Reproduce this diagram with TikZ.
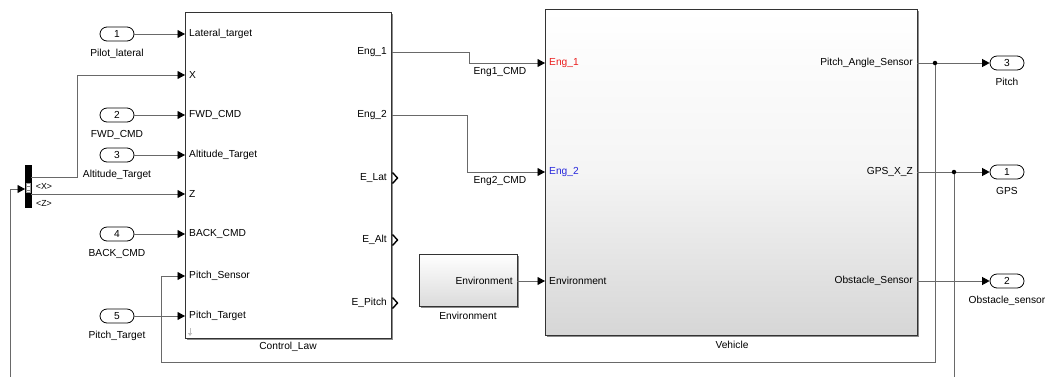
\documentclass[tikz,border=0pt]{standalone}
\usepackage{fontspec}
\setmainfont{Liberation Sans}
\usetikzlibrary{arrows.meta,shadows}
\newcommand{\dfont}{\fontsize{10.2}{12}\selectfont}
\newcommand{\sfont}{\fontsize{8.8}{10}\selectfont}
\definecolor{linegray}{RGB}{105,105,105}
\definecolor{portred}{RGB}{235,30,30}
\definecolor{portblue}{RGB}{40,40,220}
\tikzset{
  wire/.style={draw=linegray, line width=0.85pt},
  arr/.style={wire, -{Triangle[length=7.5pt,width=8pt,color=black]}},
  inport/.style={draw=black, line width=0.8pt, rounded corners=7pt, minimum width=34pt, minimum height=14pt, inner sep=0pt, font=\dfont, fill=white},
  block/.style={draw=black!80, line width=0.8pt, inner sep=0pt, drop shadow={shadow xshift=1.6pt, shadow yshift=-1.6pt, fill=black!45, opacity=1}},
  txt/.style={font=\dfont, inner sep=0pt},
  chev/.style={draw=black, line width=1.4pt},
  dot/.style={circle, fill=black, inner sep=0pt, minimum size=4.5pt},
  lbl/.style={txt, label distance=7.5pt}
}
\begin{document}
\begin{tikzpicture}[x=1pt,y=-1pt]
\clip (0,0) rectangle (1052,376);
\useasboundingbox (0,0) rectangle (1052,376);

% ---------- Control_Law block ----------
\node[block, fill=white, minimum width=206pt, minimum height=326pt] (cl) at (288,175) {};
\node[txt] (cltitle) at (288,347) {Control\_Law};
\draw[black!25, line width=0.8pt, -{Triangle[length=3pt,width=4pt]}] (190,328) -- (190,336);

\foreach \nm/\yy/\tx in {i1/34/Lateral\_target, i2/75/X, i3/115/FWD\_CMD, i4/155/Altitude\_Target, i5/194/Z, i6/234/BACK\_CMD, i7/276/Pitch\_Sensor, i8/316/Pitch\_Target}{
  \coordinate (cl-\nm) at (185,\yy);
  \node[txt, anchor=west] (cl-\nm-t) at (189,\yy) {\tx};
}
\foreach \nm/\yy/\tx in {o1/52/Eng\_1, o2/115/Eng\_2, o3/178/E\_Lat, o4/240/E\_Alt, o5/303/E\_Pitch}{
  \coordinate (cl-\nm) at (392,\yy);
  \node[txt, anchor=east] (cl-\nm-t) at (387,\yy) {\tx};
}
\foreach \yy in {178,240,303}{
  \draw[chev] (392.5,\yy-5.5) -- (397.5,\yy) -- (392.5,\yy+5.5);
}

% ---------- Inports ----------
\node[inport, label={[lbl]below:Pilot\_lateral}] (in1) at (117,34) {1};
\node[inport, label={[lbl]below:FWD\_CMD}] (in2) at (117,115) {2};
\node[inport, label={[lbl]below:Altitude\_Target}] (in3) at (117,155) {3};
\node[inport, label={[lbl]below:BACK\_CMD}] (in4) at (117,234) {4};
\node[inport, label={[lbl]below:Pitch\_Target}] (in5) at (117,316) {5};

\draw[arr] (in1.east) -- (cl-i1);
\draw[arr] (in2.east) -- (cl-i3);
\draw[arr] (in3.east) -- (cl-i4);
\draw[arr] (in4.east) -- (cl-i6);
\draw[arr] (in5.east) -- (cl-i8);

% ---------- Bus selector ----------
\node[fill=black, draw=black, minimum width=6pt, minimum height=42pt, inner sep=0pt] (bus) at (28,186) {};
\node[fill=white, draw=black!40, line width=0.4pt, minimum width=3.6pt, minimum height=9pt, inner sep=0pt] (busin) at (28,188) {};
\draw[black!50, line width=0.4pt] (26.5,186) -- (29.5,186) (26.5,190) -- (29.5,190);
\coordinate (busX) at (31,177);
\coordinate (busZ) at (31,194);
\coordinate (busI) at (25,189);
\node[font=\sfont, inner sep=0pt] (lx) at (44,186) {<X>};
\node[font=\sfont, inner sep=0pt] (lz) at (44,203) {<Z>};
\draw[arr] (busX) -- (77,177) -- (77,75) -- (cl-i2);
\draw[arr] (busZ) -- (cl-i5);

% ---------- Vehicle block ----------
\node[block, top color=white, bottom color=black!16, middle color=black!4, minimum width=372pt, minimum height=326pt] (veh) at (731,172) {};
\node[txt] (vehtitle) at (732,345) {Vehicle};
\coordinate (veh-i1) at (545,63);
\coordinate (veh-i2) at (545,172);
\coordinate (veh-i3) at (545,281);
\coordinate (veh-o1) at (917,63);
\coordinate (veh-o2) at (917,172);
\coordinate (veh-o3) at (917,281);
\node[txt, anchor=west, text=portred] (vi1t) at (549,63) {Eng\_1};
\node[txt, anchor=west, text=portblue] (vi2t) at (549,172) {Eng\_2};
\node[txt, anchor=west] (vi3t) at (549,281) {Environment};
\node[txt, anchor=east] (vo1t) at (913,63) {Pitch\_Angle\_Sensor};
\node[txt, anchor=east] (vo2t) at (913,172) {GPS\_X\_Z};
\node[txt, anchor=east] (vo3t) at (913,281) {Obstacle\_Sensor};

% ---------- Environment block ----------
\node[block, top color=white, bottom color=black!14, minimum width=98pt, minimum height=52pt] (env) at (468,280) {};
\node[txt, anchor=east] (envt) at (513,281) {Environment};
\node[txt] (envtitle) at (468,316) {Environment};
\coordinate (env-o) at (517,281);
\draw[arr] (env-o) -- (veh-i3);

% ---------- Engine commands ----------
\draw[arr] (cl-o1) -- (469,52) -- (469,63) -- (veh-i1);
\node[txt] (e1lab) at (500,72) {Eng1\_CMD};
\draw[arr] (cl-o2) -- (467,115) -- (467,172) -- (veh-i2);
\node[txt] (e2lab) at (500,181) {Eng2\_CMD};

% ---------- Outports ----------
\node[inport, label={[lbl]below:Pitch}] (outP) at (1007,63) {3};
\node[inport, label={[lbl]below:GPS}] (outG) at (1007,172) {1};
\node[inport, label={[lbl]below:Obstacle\_sensor}] (outO) at (1007,281) {2};

\coordinate (bp1) at (935,63);
\coordinate (bp2) at (954,172);
\draw[arr] (veh-o1) -- (outP.west);
\draw[arr] (veh-o2) -- (outG.west);
\draw[arr] (veh-o3) -- (outO.west);

% ---------- Feedback lines ----------
\draw[arr] (bp1) -- (935,362) -- (161,362) -- (161,276) -- (cl-i7);
\draw[arr] (bp2) -- (954,390) -- (10,390) -- (10,189) -- (busI);
\node[dot] (d1) at (bp1) {};
\node[dot] (d2) at (bp2) {};
\end{tikzpicture}
\end{document}
